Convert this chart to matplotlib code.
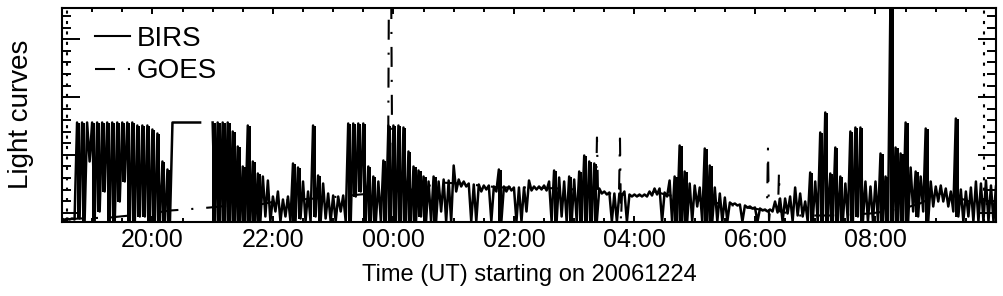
import numpy as np
import matplotlib
matplotlib.use('Agg')
import matplotlib.pyplot as plt
from matplotlib.ticker import FixedLocator, NullFormatter

nan = float('nan')

# ---- BIRS: max / min of the signal in 5-minute bins starting 18:30 UT ----
birs_start_h = 18.5
birs_step_min = 5
birs_hi = [3, 3, 3, 99, 99, 99, 99, 99, 99, 99, 99, 99, 99, 99, 99, 96, 96,
           96, 92, 88, 60, 52, 99, 99, 99, 99, 99, 99, nan, nan, 99, 99, 99, 99, 90, 75, 55, 96, 60, 48, 45,
           41, 25, 30, 22, 25, 58, 54, 40, 30, 96, 46, 38, 28, 26, 25, 26, 98, 98, 98, 98, 55, 45, 40, 61, 96,
           96,
           96, 94, 70, 55, 51, 45, 40, 45, 40, 42, 41, 56, 42, 40, 38, 37, 37, 36, 36, 35, 52, 35, 35, 34, 34,
           34, 41, 35, 35, 36, 40, 51, 44, 40, 45, 42, 50, 66, 60, 58, 33, 30, 29, 28, 28, 30, 27, 27, 27,
           27,
           30, 33, 33, 29, 41, 45, 76, 50, 38, 36, 34, 73, 56, 34, 28, 24, 19, 18, 17, 16, 15, 14, 13, 12, 12,
           20, 23, 23, 25, 34, 28, 20, 49, 40, 89, 109, 48, 74, 45, 38, 90, 94, 94, 40, 35, 40, 68, 45,
           230, 74, 68, 99, 54, 50, 45, 93, 40, 35, 36, 33, 30, 103, 32, 30, 34, 40, 38, 41, 36, 36]
birs_lo = [1, 2, 2, 3, 0, 60, 0, 10, 30, 0, 0, 20, 40, 0, 0, 5, 5,
           0, 0, 0, 0, 0, 99, 99, 99, 99, 99, 99, nan, nan, 0, 0, 0, 0, 0, 0, 0, 0, 0, 0, 5,
           0, 10, 0, 5, 0, 0, 3, 0, 0, 5, 0, 3, 0, 0, 10, 0, 0, 25, 30, 0, 0, 0, 0, 0, 0,
           0,
           0, 0, 0, 0, 5, 0, 0, 0, 10, 0, 0, 30, 35, 35, 0, 0, 30, 32, 0, 30, 0, 30, 31, 0, 0,
           10, 31, 32, 32, 31, 0, 0, 5, 0, 0, 0, 0, 0, 0, 0, 28, 27, 0, 0, 26, 0, 25, 25, 25,
           25,
           26, 27, 0, 25, 0, 0, 0, 0, 0, 15, 0, 0, 0, 0, 0, 0, 17, 16, 0, 14, 13, 0, 11, 10, 10,
           9, 0, 8, 0, 6, 5, 0, 0, 0, 0, 0, 0, 0, 0, 0, 0, 5, 0, 0, 0, 0, 0, 0,
           0, 0, 0, 0, 10, 5, 10, 0, 15, 20, 20, 15, 10, 5, 0, 5, 0, 0, 0, 0, 0, 0]

# ---- GOES: time (hours from 00:00 UT on 20061224) and level ----
goes_t = [18.517, 18.799, 19.297, 19.628, 19.960, 20.292, 20.541, 20.956, 21.288, 21.786,
          22.118, 22.450, 22.947, 23.445, 23.860, 23.910, 23.927, 23.960, 23.976, 24.009,
          24.076, 24.441, 24.773, 25.105, 25.437, 25.769, 26.266, 26.764, 27.262, 27.362,
          27.378, 27.395, 27.594, 27.743, 27.760, 27.776, 27.793, 28.092, 28.341, 28.507,
          28.756, 29.088, 29.420, 29.751, 30.083, 30.199, 30.216, 30.233, 30.249, 30.382,
          30.398, 30.415, 30.747, 31.245, 31.909, 32.407, 32.738, 33.070, 33.319, 33.651, 34.0]
goes_v = [2, 3, 4, 6, 8, 11, 12, 14, 16, 17,
          21, 22, 24, 27, 29, 29, 260, 260, 98, 40,
          30, 33, 39, 38, 36, 34, 34, 33, 31, 30,
          84, 30, 28, 27, 83, 0, 27, 26, 30, 27,
          24, 21, 18, 15, 12, 11, 73, 0, 11, 10,
          49, 10, 6, 6, 8, 12, 18, 28, 25, 18, 17]

# observation window marks (dotted verticals)
window_marks = [18.577, 33.80]

xtick_hours = [20, 22, 24, 26, 28, 30, 32]
xtick_labels = ['20:00', '22:00', '00:00', '02:00', '04:00', '06:00', '08:00']

plt.rcParams['font.family'] = ['Liberation Sans', 'DejaVu Sans']

W, H = 1004, 296
fig = plt.figure(figsize=(W / 100, H / 100), dpi=100)
ax = fig.add_axes([62 / W, (H - 221.5) / H, 934 / W, 213.5 / H])

# BIRS: densely varying signal -> min/max envelope per bin where the
# excursion is large, plus a zig-zag trace through bin max / bin min
n = len(birs_hi)
step_h = birs_step_min / 60.0
t = birs_start_h + np.arange(n) * step_h
hi = np.array(birs_hi, dtype=float)
lo = np.array(birs_lo, dtype=float)
with np.errstate(invalid='ignore'):
    dense = (hi - lo) >= 45
ax.bar(t[dense] + step_h / 4, (hi - lo)[dense], bottom=lo[dense], width=step_h * 0.7,
       color='k', linewidth=0, align='center')

x = np.empty(2 * n)
y = np.empty(2 * n)
x[0::2] = t
x[1::2] = t + step_h / 2
y[0::2] = hi
y[1::2] = lo
ax.plot(x, y, color='k', lw=1.8, label='BIRS')

ax.plot(goes_t, goes_v, color='k', lw=1.5, ls=(0, (9.6, 6.2, 1.0, 6.2)), label='GOES')

for m in window_marks:
    ax.axvline(m, color='k', lw=1.5, ls=(0, (1.5, 3.5)))

ax.set_xlim(18.5, 34.0)
ax.set_ylim(0, 213.5)

ax.xaxis.set_major_locator(FixedLocator(xtick_hours))
ax.set_xticklabels(xtick_labels)
ax.xaxis.set_minor_locator(FixedLocator(np.arange(18.5, 34.01, 0.5)))
ax.tick_params(axis='x', which='major', direction='in', length=4.5, width=1.4,
               top=True, bottom=True, labelsize=18, pad=4.5)
ax.tick_params(axis='x', which='minor', direction='in', length=2.8, width=1.4,
               top=True, bottom=True)

ymaj = 8.8 + 57.8 * np.arange(4)
ymin = 8.8 + 11.56 * np.arange(19)
ax.yaxis.set_major_locator(FixedLocator(ymaj))
ax.yaxis.set_minor_locator(FixedLocator(ymin[ymin < 213.5]))
ax.yaxis.set_major_formatter(NullFormatter())
ax.tick_params(axis='y', which='major', direction='in', length=13, width=1.4,
               left=True, right=True, labelleft=False)
ax.tick_params(axis='y', which='minor', direction='in', length=6.5, width=1.4,
               left=True, right=True)

for s in ax.spines.values():
    s.set_linewidth(1.5)

ax.set_xlabel('Time (UT) starting on 20061224', fontsize=17, labelpad=9)
ax.set_ylabel('Light curves', fontsize=20, labelpad=17)

leg = ax.legend(loc='upper left', bbox_to_anchor=(0.035, 0.915), frameon=False,
                fontsize=20, handlelength=1.26, handletextpad=0.25,
                labelspacing=0.22, borderpad=0, borderaxespad=0)
leg.get_lines()[0].set_linewidth(1.5)

fig.savefig('out.png', dpi=100)
